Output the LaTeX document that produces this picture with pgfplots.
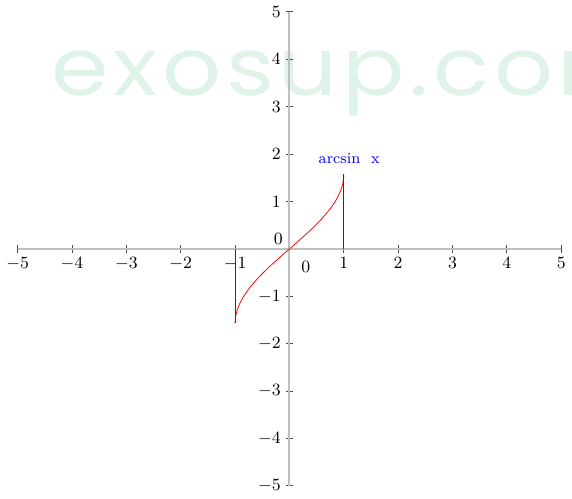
\documentclass[border=0pt]{standalone}
\usepackage{pgfplots}
\pgfplotsset{compat=1.18}
\usepackage{fontspec}
\newfontfamily\wmfont[LetterSpace=5]{Poppins}
\definecolor{wm}{RGB}{224,243,233}
\begin{document}
\begin{tikzpicture}
\node[overlay,anchor=base west,text=wm,inner sep=0pt,xscale=1.15,font=\wmfont\fontsize{42}{42}\selectfont] at (0.62cm,7.18cm) {exosup.com};
\begin{axis}[x=1cm,y=0.872cm,
 axis lines=middle,axis line style={gray!50,line width=1.1pt,-},
 xmin=-5,xmax=5,ymin=-5,ymax=5,
 xtick={-5,-4,-3,-2,-1,1,2,3,4,5},ytick={-5,-4,-3,-2,-1,1,2,3,4,5},
 tick align=center,major tick length=4pt,
 tick style={black!70,line width=0.5pt},
 xticklabel style={anchor=north,yshift=1pt,font=\small},
 yticklabel style={anchor=east,xshift=1pt,font=\small},
 clip=false]
\addplot[red,thin] coordinates {(-1,-1.5708)(-0.998,-1.5075)(-0.995,-1.4708)(-0.99,-1.4293)(-0.98,-1.3705)(-0.96,-1.2870)(-0.94,-1.2226)(-0.92,-1.1681)(-0.9,-1.1198)(-0.85,-1.0160)(-0.8,-0.9273)(-0.75,-0.8481)(-0.7,-0.7754)(-0.6,-0.6435)(-0.5,-0.5236)(-0.4,-0.4115)(-0.3,-0.3047)(-0.2,-0.2014)(-0.1,-0.1002)(0,0)(0.1,0.1002)(0.2,0.2014)(0.3,0.3047)(0.4,0.4115)(0.5,0.5236)(0.6,0.6435)(0.7,0.7754)(0.75,0.8481)(0.8,0.9273)(0.85,1.0160)(0.9,1.1198)(0.92,1.1681)(0.94,1.2226)(0.96,1.2870)(0.98,1.3705)(0.99,1.4293)(0.995,1.4708)(0.998,1.5075)(1,1.5708)};
\addplot[black!80,thin] coordinates {(1,0)(1,1.5708)};
\addplot[black!80,thin] coordinates {(-1,0)(-1,-1.5708)};
\node[font=\small,anchor=north] at (axis cs:0.3,-0.12) {$0$};
\node[font=\small,anchor=east] at (axis cs:0.0,0.22) {$0$};
\node[font=\footnotesize,text=blue] at (axis cs:1.1,1.9) {arcsin\ \ x};
\end{axis}
\end{tikzpicture}
\end{document}
